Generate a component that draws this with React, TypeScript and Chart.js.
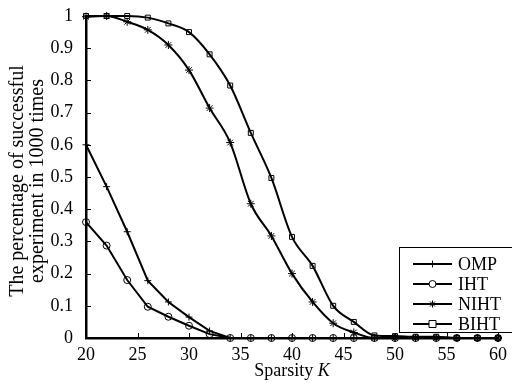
import React, { useEffect, useRef } from 'react';
import { Chart, registerables } from 'chart.js';

Chart.register(...registerables);

const kValues = [20, 22, 24, 26, 28, 30, 32, 34, 36, 38, 40, 42, 44, 46, 48, 50, 52, 54, 56, 58, 60];
const ompValues = [0.6, 0.47, 0.33, 0.178, 0.112, 0.065, 0.022, 0, 0, 0, 0, 0, 0, 0, 0, 0, 0, 0, 0, 0, 0];
const ihtValues = [0.36, 0.287, 0.18, 0.097, 0.066, 0.038, 0.012, 0, 0, 0, 0, 0, 0, 0, 0, 0, 0, 0, 0, 0, 0];
const nihtValues = [0.998, 1.0, 0.982, 0.957, 0.91, 0.832, 0.714, 0.607, 0.417, 0.317, 0.2, 0.112, 0.046, 0.017, 0, 0, 0, 0, 0, 0, 0];
const bihtValues = [1, 1, 1, 0.995, 0.977, 0.95, 0.881, 0.784, 0.637, 0.497, 0.314, 0.224, 0.1, 0.05, 0.008, 0.006, 0.004, 0.004, 0, 0, 0];

const seriesNames = ['OMP', 'IHT', 'NIHT', 'BIHT'];
const seriesStyles = ['cross', 'circle', 'star', 'rect'];
const yTickLabels = ['0', '0.1', '0.2', '0.3', '0.4', '0.5', '0.6', '0.7', '0.8', '0.9', '1'];
const xTickValues = [20, 25, 30, 35, 40, 45, 50, 55, 60];
const yTitleLines = ['The percentage of successful', 'experiment in 1000 times'];
const xTitleMain = 'Sparsity ';
const xTitleVar = 'K';

const FONT = '"Liberation Serif", "DejaVu Serif", serif';

function drawMarker(ctx: CanvasRenderingContext2D, style: string, x: number, y: number, r: number) {
  ctx.save();
  ctx.strokeStyle = '#000';
  ctx.lineWidth = 1;
  ctx.fillStyle = '#fff';
  ctx.beginPath();
  if (style === 'cross') {
    ctx.moveTo(x - r, y); ctx.lineTo(x + r, y);
    ctx.moveTo(x, y - r); ctx.lineTo(x, y + r);
    ctx.stroke();
  } else if (style === 'circle') {
    ctx.arc(x, y, r, 0, Math.PI * 2);
    ctx.fill();
    ctx.stroke();
  } else if (style === 'star') {
    ctx.moveTo(x - r, y); ctx.lineTo(x + r, y);
    ctx.moveTo(x, y - r); ctx.lineTo(x, y + r);
    const d = r * 0.707;
    ctx.moveTo(x - d, y - d); ctx.lineTo(x + d, y + d);
    ctx.moveTo(x - d, y + d); ctx.lineTo(x + d, y - d);
    ctx.stroke();
  } else {
    ctx.rect(x - r, y - r, 2 * r, 2 * r);
    ctx.fill();
    ctx.stroke();
  }
  ctx.restore();
}

const decorPlugin = {
  id: 'decor',
  afterDraw(chart: any) {
    const ctx: CanvasRenderingContext2D = chart.ctx;
    const xs = chart.scales.x;
    const ys = chart.scales.y;
    const area = chart.chartArea;
    ctx.save();
    ctx.strokeStyle = '#000';
    ctx.lineWidth = 1;
    // inner ticks
    ctx.beginPath();
    for (let i = 0; i < yTickLabels.length; i++) {
      const py = Math.round(ys.getPixelForValue(i / 10)) + 0.5;
      ctx.moveTo(area.left, py);
      ctx.lineTo(area.left + 5, py);
    }
    for (const v of xTickValues) {
      const px = Math.round(xs.getPixelForValue(v)) + 0.5;
      ctx.moveTo(px, area.bottom);
      ctx.lineTo(px, area.bottom - 5);
    }
    ctx.stroke();

    // x title
    ctx.fillStyle = '#000';
    ctx.textBaseline = 'middle';
    ctx.font = `18px ${FONT}`;
    const w1 = ctx.measureText(xTitleMain).width;
    ctx.font = `italic 18px ${FONT}`;
    const w2 = ctx.measureText(xTitleVar).width;
    const cx = (area.left + area.right) / 2;
    const tx = cx - (w1 + w2) / 2;
    ctx.textAlign = 'left';
    ctx.font = `18px ${FONT}`;
    ctx.fillText(xTitleMain, tx, 371);
    ctx.font = `italic 18px ${FONT}`;
    ctx.fillText(xTitleVar, tx + w1, 371);

    // y title
    ctx.save();
    ctx.translate(23, 181);
    ctx.rotate(-Math.PI / 2);
    ctx.textAlign = 'center';
    ctx.textBaseline = 'alphabetic';
    ctx.font = `20px ${FONT}`;
    ctx.fillText(yTitleLines[0], 0, 0);
    ctx.fillText(yTitleLines[1], 0, 20);
    ctx.restore();

    // legend
    const bx = 399.5, by = 247.5, bw = 120, bh = 85;
    ctx.fillStyle = '#fff';
    ctx.fillRect(bx, by, bw, bh);
    ctx.strokeStyle = '#000';
    ctx.lineWidth = 1;
    ctx.strokeRect(bx, by, bw, bh);
    for (let i = 0; i < seriesNames.length; i++) {
      const ly = 264 + i * 20;
      ctx.beginPath();
      ctx.lineWidth = 2;
      ctx.moveTo(413, ly);
      ctx.lineTo(452, ly);
      ctx.stroke();
      drawMarker(ctx, seriesStyles[i], 432.5, ly, 3.5);
      ctx.fillStyle = '#000';
      ctx.font = `18px ${FONT}`;
      ctx.textAlign = 'left';
      ctx.textBaseline = 'middle';
      ctx.fillText(seriesNames[i], 458, ly + 1);
    }
    ctx.restore();
  },
};

export default function App() {
  const canvasRef = useRef<HTMLCanvasElement | null>(null);

  useEffect(() => {
    if (!canvasRef.current) return;
    const allValues = [ompValues, ihtValues, nihtValues, bihtValues];
    const datasets = allValues.map((vals, i) => ({
      label: seriesNames[i],
      data: kValues.map((k, j) => ({ x: k, y: vals[j] })),
      borderColor: '#000',
      backgroundColor: '#fff',
      borderWidth: 2,
      pointStyle: seriesStyles[i] as any,
      pointRadius: i === 2 ? 4 : 3.5,
      pointBorderWidth: 1,
      pointBorderColor: '#000',
      pointBackgroundColor: 'rgba(255,255,255,0)',
      tension: i >= 2 ? 0.4 : 0,
      cubicInterpolationMode: i >= 2 ? ('monotone' as const) : ('default' as const),
      clip: false as any,
    }));

    const chart = new Chart(canvasRef.current, {
      type: 'line',
      data: { datasets },
      options: {
        animation: false,
        responsive: false,
        layout: { padding: { left: 0, right: 14, top: 16, bottom: 0 } },
        plugins: { legend: { display: false }, tooltip: { enabled: false } },
        scales: {
          x: {
            type: 'linear',
            min: 20,
            max: 60,
            afterFit: (s: any) => { s.height = 45; },
            afterBuildTicks: (s: any) => { s.ticks = xTickValues.map((v) => ({ value: v })); },
            grid: { display: false },
            border: { display: true, color: '#000', width: 2.5 },
            ticks: {
              color: '#000',
              padding: -2,
              maxRotation: 0,
              font: { family: FONT, size: 18 },
              callback: (v: any) => String(v),
            },
          },
          y: {
            type: 'linear',
            min: 0,
            max: 1,
            afterFit: (s: any) => { s.width = 86; },
            afterBuildTicks: (s: any) => { s.ticks = yTickLabels.map((_, i) => ({ value: i / 10 })); },
            grid: { display: false },
            border: { display: true, color: '#000', width: 2.5 },
            ticks: {
              color: '#000',
              padding: 5,
              font: { family: FONT, size: 18 },
              callback: (_v: any, idx: number) => yTickLabels[idx],
            },
          },
        },
      },
      plugins: [decorPlugin],
    });
    return () => chart.destroy();
  }, []);

  return (
    <div style={{ position: 'absolute', left: 0, top: 0, width: 512, height: 383, background: '#fff' }}>
      <canvas ref={canvasRef} width={512} height={383} />
    </div>
  );
}
